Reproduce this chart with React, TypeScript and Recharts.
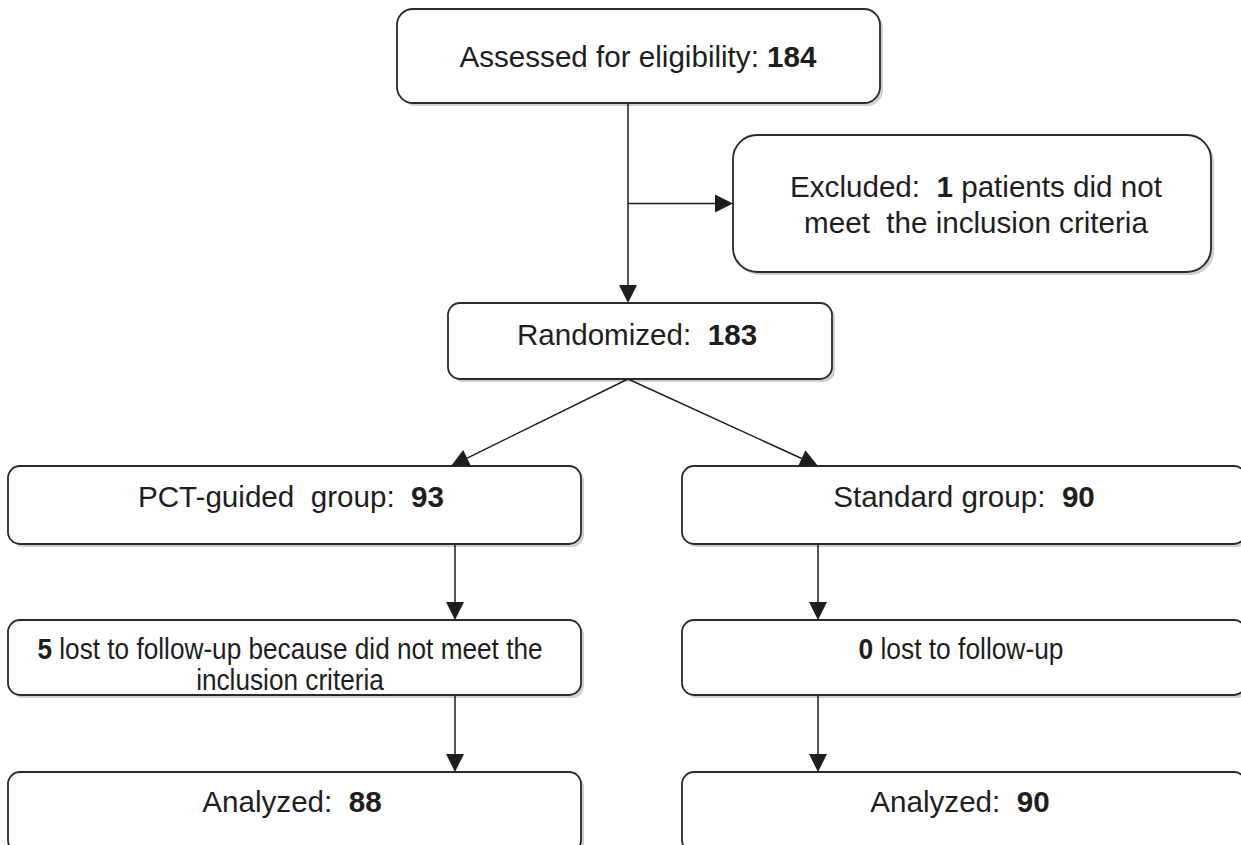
import React from "react";
import {
  ScatterChart,
  Scatter,
  XAxis,
  YAxis,
  ReferenceArea,
  ReferenceLine,
} from "recharts";

const W = 1241;
const H = 845;

// Flow boxes: text ("{n}" is the bold count) and counts
const nodeTemplates = [
  "Assessed for eligibility: {n}",
  "Excluded:  {n} patients did not\nmeet  the inclusion criteria",
  "Randomized:  {n}",
  "PCT-guided  group:  {n}",
  "Standard group:  {n}",
  "{n} lost to follow-up because did not meet the\ninclusion criteria",
  "{n} lost to follow-up",
  "Analyzed:  {n}",
  "Analyzed:  {n}",
];
const nodeCounts = [184, 1, 183, 93, 90, 5, 0, 88, 90];

// Connections between boxes (index into the lists above)
const edgeSource = [0, 0, 2, 2, 3, 4, 5, 6];
const edgeTarget = [2, 1, 3, 4, 5, 6, 7, 8];

// Layout, in the units of the hidden axes
const boxLeft = [397, 733, 448, 8, 682, 8, 682, 8, 682];
const boxRight = [880, 1211, 832, 581, 1246, 581, 1246, 581, 1246];
const boxTop = [9, 135, 303, 466, 466, 620, 620, 772, 772];
const boxBottom = [103, 272, 379, 544, 544, 695, 695, 852, 852];
const boxRadius = [16, 24, 12, 12, 12, 12, 12, 12, 12];
const textX = [638, 976, 637, 291, 964, 290, 961, 292, 960];
const textY = [67, 197, 345, 507, 507, 659, 659, 812, 812];
const textLineGap = [0, 36, 0, 0, 0, 31, 0, 0, 0];
const textScaleX = [1, 1, 1, 1, 1, 0.885, 0.89, 1, 1];
const edgeStartX = [628, 628, 628, 628, 455, 818, 455, 818];
const edgeEndX = [628, 0, 451, 818, 455, 818, 455, 818];

const FONT = '"Liberation Sans", Arial, Helvetica, sans-serif';
const INK = "#1e1e1e";

const textAnchors = nodeTemplates.map((_, i) => ({ x: textX[i], y: textY[i], i }));

const edges = edgeSource.map((s, k) => {
  const t = edgeTarget[k];
  if (t === 1) {
    // side branch into the "Excluded" box
    const midY = (boxTop[t] + boxBottom[t]) / 2;
    return [{ x: edgeStartX[k], y: midY }, { x: boxLeft[t], y: midY }];
  }
  return [
    { x: edgeStartX[k], y: boxBottom[s] },
    { x: edgeEndX[k], y: boxTop[t] },
  ];
});

function BoxShape(props: any) {
  const { x, y, width, height, radius } = props;
  return (
    <g>
      <rect x={x + 3} y={y + 3} width={width} height={height} rx={radius} fill="#cfcfcf" />
      <rect
        x={x}
        y={y}
        width={width}
        height={height}
        rx={radius}
        fill="#ffffff"
        stroke="#2a2a2a"
        strokeWidth={1.8}
      />
    </g>
  );
}

function ArrowShape(props: any) {
  const { x1, y1, x2, y2 } = props;
  const dx = x2 - x1;
  const dy = y2 - y1;
  const len = Math.hypot(dx, dy) || 1;
  const ux = dx / len;
  const uy = dy / len;
  const L = 18;
  const hw = 9;
  const bx = x2 - ux * L;
  const by = y2 - uy * L;
  const pts = `${x2},${y2} ${bx - uy * hw},${by + ux * hw} ${bx + uy * hw},${by - ux * hw}`;
  return (
    <g>
      <line x1={x1} y1={y1} x2={bx} y2={by} stroke={INK} strokeWidth={1.5} />
      <polygon points={pts} fill={INK} />
    </g>
  );
}

function NodeText(props: any) {
  const { cx, cy, payload } = props;
  const i = payload.i;
  const lines = nodeTemplates[i].split("\n");
  return (
    <g transform={`translate(${cx},${cy}) scale(${textScaleX[i]},1)`}>
      <text
        textAnchor="middle"
        fontFamily={FONT}
        fontSize={29.6}
        fill={INK}
        style={{ whiteSpace: "pre" }}
      >
        {lines.map((ln, k) => {
          const parts = ln.split("{n}");
          return (
            <tspan key={k} x={0} y={k * textLineGap[i]}>
              {parts.map((p, j) => (
                <React.Fragment key={j}>
                  {j > 0 && <tspan fontWeight="bold">{String(nodeCounts[i])}</tspan>}
                  {p}
                </React.Fragment>
              ))}
            </tspan>
          );
        })}
      </text>
    </g>
  );
}

export default function App() {
  return (
    <div style={{ position: "absolute", left: 0, top: 0, width: W, height: H, background: "#fff" }}>
      <ScatterChart width={W} height={H} margin={{ top: 0, right: 0, bottom: 0, left: 0 }}>
        <XAxis type="number" dataKey="x" domain={[0, W]} allowDataOverflow hide />
        <YAxis type="number" dataKey="y" domain={[0, H]} allowDataOverflow reversed hide />
        {nodeTemplates.map((_, i) => (
          <ReferenceArea
            key={`box-${i}`}
            x1={boxLeft[i]}
            x2={boxRight[i]}
            y1={boxTop[i]}
            y2={boxBottom[i]}
            ifOverflow="visible"
            shape={(p: any) => <BoxShape {...p} radius={boxRadius[i]} />}
          />
        ))}
        {edges.map((seg, k) => (
          <ReferenceLine key={`edge-${k}`} segment={seg} ifOverflow="visible" shape={ArrowShape} />
        ))}
        <Scatter data={textAnchors} shape={NodeText} isAnimationActive={false} />
      </ScatterChart>
    </div>
  );
}
